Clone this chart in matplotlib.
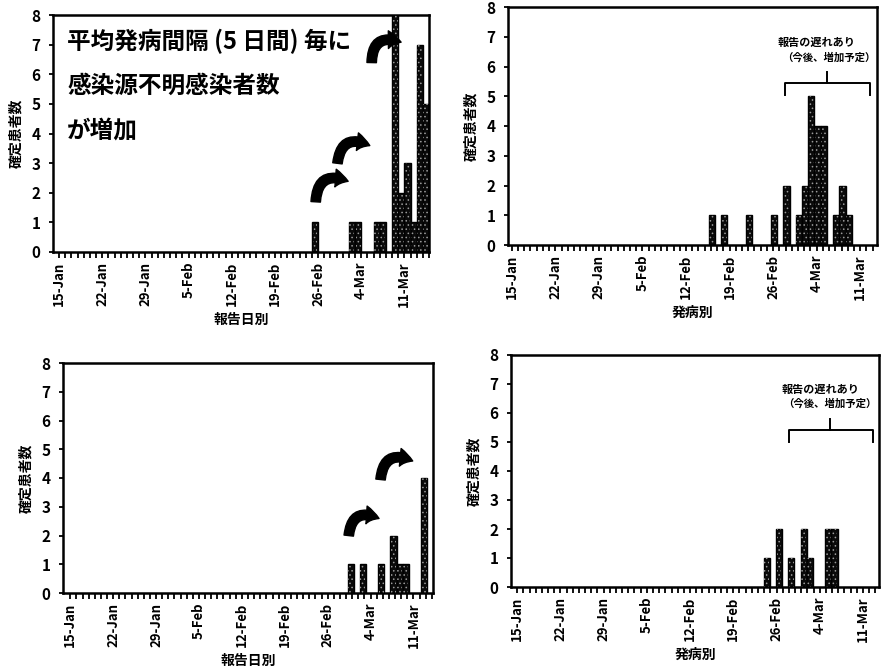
import numpy as np
import pandas as pd
import matplotlib
matplotlib.use("Agg")
import matplotlib.pyplot as plt
from matplotlib.patches import FancyArrowPatch

plt.rcParams['font.family'] = ['Noto Sans CJK JP', 'DejaVu Sans']
plt.rcParams['hatch.linewidth'] = 0.6

base = pd.Timestamp('2020-01-15')
tick_days = [0, 7, 14, 21, 28, 35, 42, 49, 56]
tick_labels = ['15-Jan', '22-Jan', '29-Jan', '5-Feb', '12-Feb', '19-Feb', '26-Feb', '4-Mar', '11-Mar']

# top left: by report date
rep1_dates = ['2020-02-26', '2020-03-03', '2020-03-04', '2020-03-07', '2020-03-08',
              '2020-03-10', '2020-03-11', '2020-03-12', '2020-03-13', '2020-03-14', '2020-03-15']
rep1_vals = [1, 1, 1, 1, 1, 9, 2, 3, 1, 7, 5]

# top right: by onset date
ons1_dates = ['2020-02-16', '2020-02-18', '2020-02-22', '2020-02-26', '2020-02-28', '2020-03-01',
              '2020-03-02', '2020-03-03', '2020-03-04', '2020-03-05', '2020-03-07', '2020-03-08',
              '2020-03-09']
ons1_vals = [1, 1, 1, 1, 2, 1, 2, 5, 4, 4, 1, 2, 1]

# bottom left: by report date
rep2_dates = ['2020-03-01', '2020-03-03', '2020-03-06', '2020-03-08', '2020-03-09', '2020-03-10', '2020-03-13']
rep2_vals = [1, 1, 1, 2, 1, 1, 4]

# bottom right: by onset date
ons2_dates = ['2020-02-24', '2020-02-26', '2020-02-28', '2020-03-01', '2020-03-02', '2020-03-05', '2020-03-06']
ons2_vals = [1, 2, 1, 2, 1, 2, 2]

W, H = 881, 668


def axes_box(l, r, b, t):
    return [l / W, 1 - b / H, (r - l) / W, (b - t) / H]


def day_index(dates):
    return np.array([(pd.Timestamp(d) - base).days for d in dates])


def panel(rect, dates, vals, shift, xlim, xlabel):
    ax = fig.add_axes(rect)
    x = day_index(dates) + shift
    ax.bar(x, vals, width=1.0, color='#0a0a0a', edgecolor='black', linewidth=1.0, zorder=2)
    ax.bar(x, vals, width=0.8, color='none', edgecolor='#9a9a9a', hatch='....', linewidth=0, zorder=3)
    ax.set_xlim(*xlim)
    ax.set_ylim(0, 8)
    ax.set_yticks(range(9))
    ax.set_xticks(tick_days)
    ax.set_xticklabels(tick_labels, rotation=90, fontsize=9.5, fontweight='bold')
    ax.set_xticks(np.arange(0, int(xlim[1]) + 1), minor=True)
    ax.tick_params(axis='x', which='both', direction='out', length=4, width=1.3, pad=3)
    ax.tick_params(axis='y', direction='out', length=3, width=1.3, labelsize=11, pad=6)
    for lab in ax.get_yticklabels():
        lab.set_fontweight('bold')
    for s in ax.spines.values():
        s.set_linewidth(1.8)
    ax.set_ylabel('確定患者数', fontsize=10, fontweight='bold', labelpad=6)
    ax.set_xlabel(xlabel, fontsize=10, fontweight='bold', labelpad=4)
    return ax


def curved_arrow(ax, tail, head):
    a = FancyArrowPatch(tail, head, connectionstyle='arc3,rad=-0.75',
                        arrowstyle='simple,head_length=0.55,head_width=0.75,tail_width=0.4',
                        mutation_scale=17, color='black', zorder=4)
    ax.add_patch(a)


def brace(ax, x0, x1, xc, yh, yend, ytop, line1, line2, t1, t2):
    ax.plot([x0, x0, x1, x1], [yend, yh, yh, yend], color='black', lw=1.4, zorder=4)
    ax.plot([xc, xc], [yh, ytop], color='black', lw=1.4, zorder=4)
    ax.text(t1[0], t1[1], line1, fontsize=8, fontweight='bold', ha='center', va='center')
    ax.text(t2[0], t2[1], line2, fontsize=7.5, fontweight='bold', ha='center', va='center')


fig = plt.figure(figsize=(W / 100, H / 100), dpi=100)

ax1 = panel(axes_box(53, 429, 252, 15), rep1_dates, rep1_vals, -0.5, (-1, 60), '報告日別')
ax1.text(1.3, 7.1, '平均発病間隔 (5 日間) 毎に', fontsize=17, fontweight='bold', va='center')
ax1.text(1.3, 5.6, '感染源不明感染者数', fontsize=17, fontweight='bold', va='center')
ax1.text(1.3, 4.1, 'が増加', fontsize=17, fontweight='bold', va='center')
curved_arrow(ax1, (41.6, 1.6), (47.3, 2.35))
curved_arrow(ax1, (45.1, 2.9), (50.8, 3.55))
curved_arrow(ax1, (50.7, 6.3), (55.9, 7.05))

ax2 = panel(axes_box(508, 877, 245, 7), ons1_dates, ons1_vals, 0.15, (-0.6, 58.7), '発病別')
brace(ax2, 43.9, 57.6, 50.7, 5.44, 5.05, 5.8, '報告の遅れあり', '（今後、増加予定）',
      (49.0, 6.8), (50.9, 6.3))

ax3 = panel(axes_box(63, 433, 593, 363), rep2_dates, rep2_vals, -0.25, (-1.2, 59.2), '報告日別')
curved_arrow(ax3, (45.4, 1.9), (50.8, 2.55))
curved_arrow(ax3, (50.6, 3.85), (56.3, 4.55))

ax4 = panel(axes_box(511, 879, 587, 355), ons2_dates, ons2_vals, 0.4, (-1, 58.6), '発病別')
brace(ax4, 44.1, 57.7, 50.7, 5.43, 5.0, 5.8, '報告の遅れあり', '（今後、増加予定）',
      (49.1, 6.8), (50.7, 6.33))

fig.savefig('out.png', dpi=100)
